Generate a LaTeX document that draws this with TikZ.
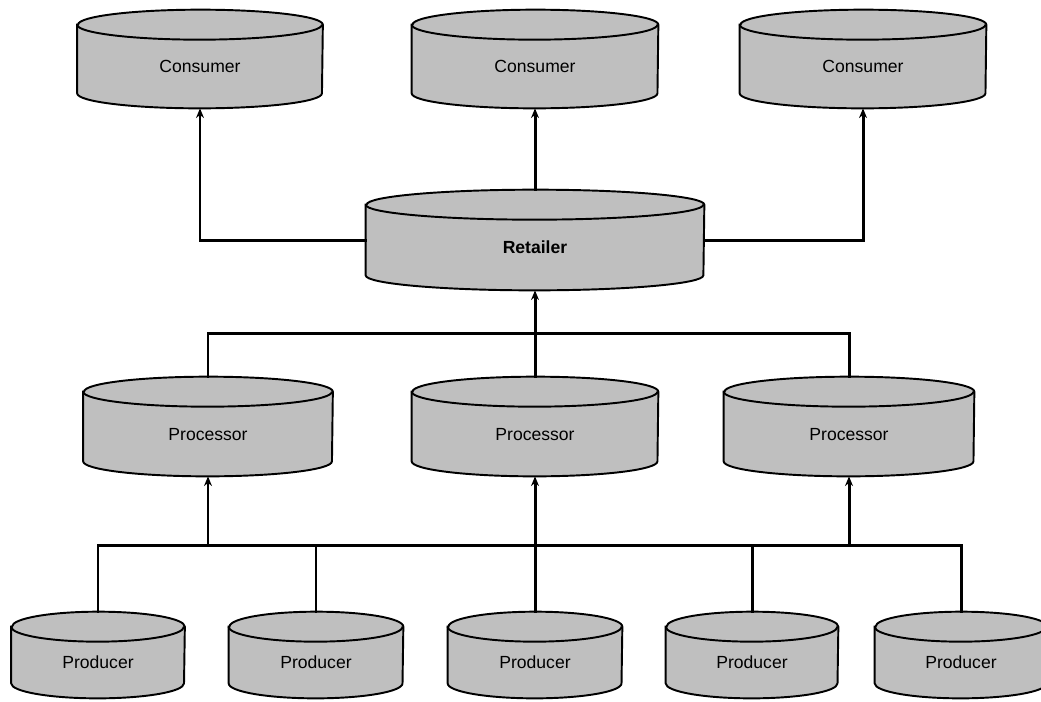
\documentclass[tikz,border=0pt]{standalone}
\usepackage{fontspec}
\setmainfont{Liberation Sans}
\usepackage{tikz}
\usetikzlibrary{calc}
\usetikzlibrary{arrows.meta}
\usetikzlibrary{backgrounds}

\tikzset{
	disk/.style={inner sep=0pt, text height=0.6cm, text depth=0.05cm,
		font=\fontsize{10}{12}\selectfont},
	diskline/.style={line width=1.1pt, fill=black!25, draw=black},
	link/.style={line width=1.7pt, line cap=rect}
}

\begin{document}
\begin{tikzpicture}[x=0.02cm,y=-0.02cm,>={Stealth[length=5.5pt,width=4.5pt]}]
	\useasboundingbox (0,0) rectangle (1041,701);

	%consumers
	\node[disk, minimum width=245*0.02cm, minimum height=1.96cm] (con1) at (200,59) {Consumer};
	\node[disk, minimum width=246*0.02cm, minimum height=1.96cm] (con2) at (535,59) {Consumer};
	\node[disk, minimum width=246*0.02cm, minimum height=1.96cm] (con3) at (863,59) {Consumer};

	%retailer
	\node[disk, minimum width=338*0.02cm, minimum height=2cm, font=\fontsize{10}{12}\selectfont\bfseries] (ret) at (535,240) {Retailer};

	%processors
	\node[disk, minimum width=249*0.02cm, minimum height=1.98cm] (pro1) at (208,426.5) {Processor};
	\node[disk, minimum width=246*0.02cm, minimum height=1.98cm] (pro2) at (535,426.5) {Processor};
	\node[disk, minimum width=250*0.02cm, minimum height=1.98cm] (pro3) at (849,426.5) {Processor};

	%producers
	\node[disk, minimum width=173*0.02cm, minimum height=1.72cm] (prd1) at (98,655) {Producer};
	\node[disk, minimum width=174*0.02cm, minimum height=1.72cm] (prd2) at (316,655) {Producer};
	\node[disk, minimum width=174*0.02cm, minimum height=1.72cm] (prd3) at (535,655) {Producer};
	\node[disk, minimum width=172*0.02cm, minimum height=1.72cm] (prd4) at (752,655) {Producer};
	\node[disk, minimum width=172*0.02cm, minimum height=1.72cm] (prd5) at (961,655) {Producer};

	%disk bodies behind the labels
	\begin{scope}[on background layer]
		\foreach \n/\w in {con1/245,con2/246,con3/246,ret/338,pro1/249,pro2/246,pro3/250,
				prd1/173,prd2/174,prd3/174,prd4/172,prd5/172}{
			\filldraw[diskline] ($(\n.north west)+(0,15)$) -- ($(\n.south west)+(0,-15)$)
				arc[start angle=180, end angle=360, x radius={\w*0.01cm}, y radius=0.3cm]
				-- ($(\n.north east)+(0,15)$)
				arc[start angle=0, end angle=180, x radius={\w*0.01cm}, y radius=0.3cm] -- cycle;
			\draw[line width=1.1pt] ($(\n.north west)+(0,15)$)
				arc[start angle=180, end angle=360, x radius={\w*0.01cm}, y radius=0.3cm];
		}
	\end{scope}

	%bus points
	\coordinate (upbus) at (535,333);
	\coordinate (lowbus) at (535,545);

	%retailer to consumers
	\draw[link,->] (ret.west) -| (con1.south);
	\draw[link,->] (ret.north) -- (con2.south);
	\draw[link,->] (ret.east) -| (con3.south);

	%processors to retailer
	\draw[link] (pro1.north) |- (upbus) -| (pro3.north);
	\draw[link,->] (pro2.north) -- (ret.south);

	%producers to processors
	\draw[link] (prd1.north) |- (lowbus) -| (prd5.north);
	\draw[link] (prd2.north) -- (prd2.north |- lowbus);
	\draw[link] (prd4.north) -- (prd4.north |- lowbus);
	\draw[link,->] (prd3.north) -- (pro2.south);
	\draw[link,->] (pro1.south |- lowbus) -- (pro1.south);
	\draw[link,->] (pro3.south |- lowbus) -- (pro3.south);
\end{tikzpicture}
\end{document}
